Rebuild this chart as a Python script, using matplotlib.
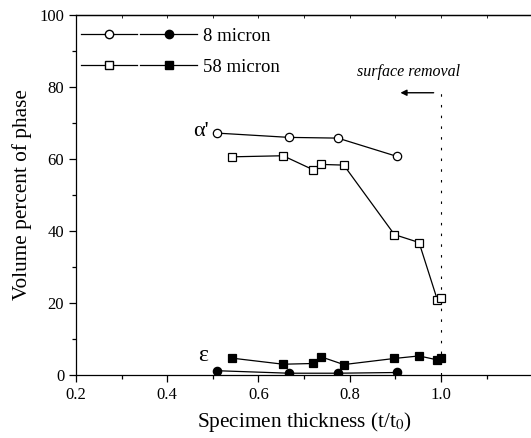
import matplotlib
matplotlib.use("Agg")
import matplotlib.pyplot as plt
from matplotlib.lines import Line2D
from matplotlib.legend_handler import HandlerTuple
from matplotlib.ticker import MultipleLocator

plt.rcParams["font.family"] = ["Liberation Serif", "DejaVu Serif"]
plt.rcParams["mathtext.fontset"] = "stix"

# 8 micron grain size
x_8 = [0.508, 0.667, 0.774, 0.904]
alpha_8 = [67.2, 66.0, 65.8, 60.7]
eps_8 = [1.2, 0.5, 0.5, 0.7]

# 58 micron grain size
x_58 = [0.541, 0.654, 0.720, 0.736, 0.787, 0.898, 0.952, 0.992, 0.999]
alpha_58 = [60.6, 60.9, 57.0, 58.5, 58.3, 39.0, 36.8, 20.9, 21.5]
eps_58 = [4.7, 3.0, 3.2, 5.1, 2.9, 4.6, 5.3, 4.2, 4.6]

x_ticks = [0.2, 0.4, 0.6, 0.8, 1.0]
y_ticks = [0, 20, 40, 60, 80, 100]

fig = plt.figure(figsize=(5.31, 4.38), dpi=100)
ax = fig.add_axes([0.1431, 0.1438, 0.8592, 0.8220])

ms = 6
lw = 0.9
ax.plot(x_8, alpha_8, "-o", color="black", lw=lw, ms=ms, mfc="white", mew=0.9, zorder=3)
ax.plot(x_58, alpha_58, "-s", color="black", lw=lw, ms=ms, mfc="white", mew=0.9, zorder=3)
ax.plot(x_8, eps_8, "-o", color="black", lw=lw, ms=ms, mfc="black", mew=0.9, zorder=3)
ax.plot(x_58, eps_58, "-s", color="black", lw=lw, ms=ms, mfc="black", mew=0.9, zorder=3)

# surface removal marker
ax.plot([1.0, 1.0], [0, 80], color="black", lw=0.8, ls=(0, (2.25, 7.4)), zorder=2)
ax.annotate("", xy=(0.905, 78.4), xytext=(0.99, 78.4),
            arrowprops=dict(arrowstyle="-|>", color="black", lw=1.0,
                            mutation_scale=9))
ax.text(1.042, 84.2, "surface removal", style="italic", fontsize=11.5,
        ha="right", va="center")

ax.text(0.49, 67.5, "α'", fontsize=16, ha="right", va="center")
ax.text(0.49, 5.5, "ε", fontsize=17, ha="right", va="center")

ax.set_xlim(0.2, 1.2)
ax.set_ylim(0, 100)
ax.set_xticks(x_ticks)
ax.set_xticklabels([f"{v:.1f}" for v in x_ticks])
ax.set_yticks(y_ticks)
ax.xaxis.set_minor_locator(MultipleLocator(0.1))
ax.yaxis.set_minor_locator(MultipleLocator(10))
ax.tick_params(axis="both", which="major", direction="out", length=5,
               width=0.9, labelsize=12)
ax.tick_params(axis="both", which="minor", direction="out", length=3, width=0.9)

# small inward ticks on the top frame line
top = ax.secondary_xaxis("top")
top.set_xticks([0.2, 0.3, 0.4, 0.5, 0.6, 0.7, 0.8, 0.9, 1.0, 1.1])
top.tick_params(direction="in", length=2, width=0.6, labeltop=False)
top.spines["top"].set_linewidth(0.9)
ax.tick_params(axis="x", which="both", top=False)

ax.spines["right"].set_visible(False)
for s in ("left", "bottom", "top"):
    ax.spines[s].set_linewidth(0.9)

ax.set_xlabel("Specimen thickness (t/t$_0$)", fontsize=15.3, labelpad=5)
ax.set_ylabel("Volume percent of phase", fontsize=15.3, labelpad=5)

h8 = (Line2D([], [], color="black", marker="o", mfc="white", ms=ms, lw=lw),
      Line2D([], [], color="black", marker="o", mfc="black", ms=ms, lw=lw))
h58 = (Line2D([], [], color="black", marker="s", mfc="white", ms=ms, lw=lw),
       Line2D([], [], color="black", marker="s", mfc="black", ms=ms, lw=lw))
ax.legend([h8, h58], ["8 micron", "58 micron"],
          handler_map={tuple: HandlerTuple(ndivide=None, pad=0.15)},
          loc="upper left", bbox_to_anchor=(0.0, 0.978), frameon=False,
          fontsize=13.5, handlelength=6.2, handletextpad=0.34,
          labelspacing=0.75, borderaxespad=0.0, borderpad=0.25, numpoints=1)

fig.savefig("out.png", dpi=100)
